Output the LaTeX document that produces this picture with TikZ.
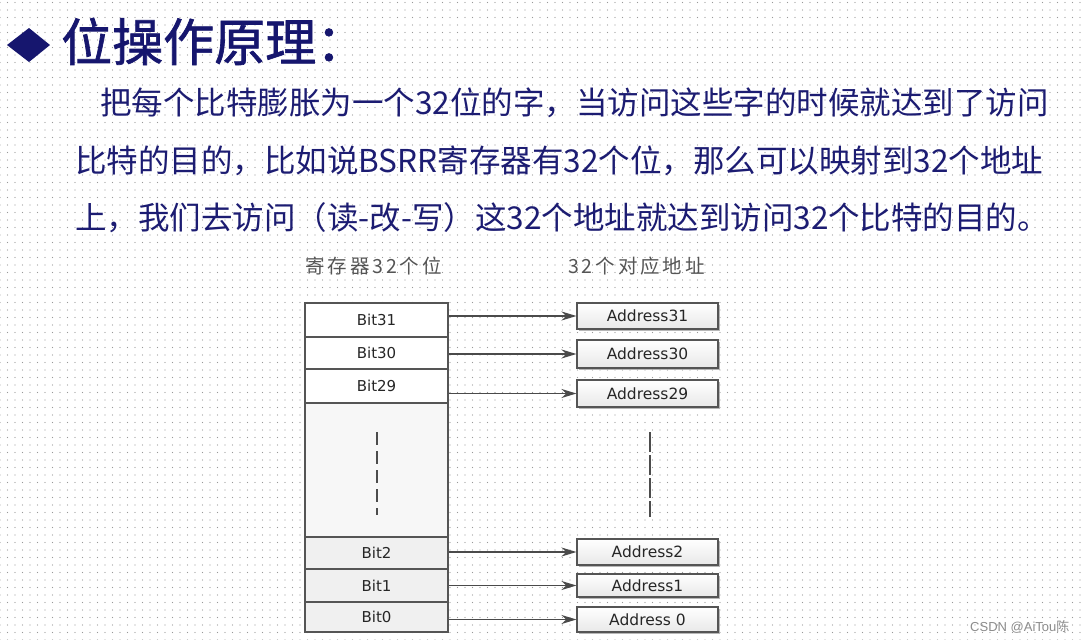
\documentclass[tikz,border=0pt]{standalone}
\usepackage{fontspec}
\usetikzlibrary{patterns.meta,arrows.meta,shadows}
\newfontfamily\cjk{Noto Sans CJK SC}
\newfontfamily\cjktitle[FakeBold=1.3]{Noto Sans CJK SC}
\newfontfamily\cjklab[LetterSpace=15]{Noto Sans CJK SC}
\newfontfamily\boxfont{DejaVu Sans}
\newfontfamily\wmfont{Liberation Sans}
\definecolor{navy}{HTML}{16166E}
\definecolor{bodyblue}{HTML}{1C1C72}
\definecolor{labgray}{HTML}{555555}
\definecolor{edgegray}{HTML}{555555}
\definecolor{arrowgray}{HTML}{4A4A4A}
\begin{document}
\begin{tikzpicture}[x=1pt,y=-1pt,
  bodytext/.style={anchor=base west,inner sep=0pt,text=bodyblue,font=\cjk\fontsize{31.5}{38}\selectfont},
  labtext/.style={anchor=base west,inner sep=0pt,text=labgray,font=\cjklab\fontsize{19.5}{22}\selectfont},
  bitbox/.style={draw=edgegray,line width=1.1pt,minimum width=143pt,inner sep=0pt,text=black!85,font=\boxfont\fontsize{15}{18}\selectfont},
  topfill/.style={fill=white},
  midfill/.style={fill=black!3},
  lowfill/.style={fill=black!6},
  addrbox/.style={draw=edgegray,line width=1.1pt,minimum width=141pt,inner sep=0pt,top color=white,bottom color=black!9,
    drop shadow={shadow xshift=2pt,shadow yshift=-2pt,fill=black!35,opacity=0.8},
    text=black!85,font=\boxfont\fontsize{15.5}{18}\selectfont},
  conn/.style={draw=arrowgray,line width=1.7pt,-{Stealth[length=15pt,width=9pt,fill=black!75]}},
  dashline/.style={draw=black!70,line width=1.1pt}
]
\useasboundingbox (0,0) rectangle (1085,640);
\fill[white] (0,0) rectangle (1085,640);
\fill[pattern={Dots[distance=7.5pt,radius=0.6pt]},pattern color=black!40] (0,0) rectangle (1085,640);

% title
\fill[navy] (7,45) -- (29,28) -- (50,45) -- (29,62) -- cycle;
\node[anchor=base west,inner sep=0pt,text=navy,font=\cjktitle\fontsize{51}{60}\selectfont] (title) at (61,61) {位操作原理：};

% body
\node[bodytext] (l1) at (100,114) {把每个比特膨胀为一个32位的字，当访问这些字的时候就达到了访问};
\node[bodytext] (l2) at (75,172) {比特的目的，比如说BSRR寄存器有32个位，那么可以映射到32个地址};
\node[bodytext] (l3) at (75,229) {上，我们去访问（读-改-写）这32个地址就达到访问32个比特的目的。};

% labels
\node[labtext] (labL) at (305,273) {寄存器32个位};
\node[labtext] (labR) at (568,273) {32个对应地址};

% register column
\node[bitbox,topfill,minimum height=34pt] (b31) at (376.5,320) {Bit31};
\node[bitbox,topfill,minimum height=32pt] (b30) at (376.5,353) {Bit30};
\node[bitbox,topfill,minimum height=34pt] (b29) at (376.5,386) {Bit29};
\node[bitbox,midfill,minimum height=134pt] (bmid) at (376.5,470) {};
\node[bitbox,lowfill,minimum height=32pt] (b2) at (376.5,553) {Bit2};
\node[bitbox,lowfill,minimum height=33pt] (b1) at (376.5,585.5) {Bit1};
\node[bitbox,lowfill,minimum height=30pt] (b0) at (376.5,617) {Bit0};

% address column
\node[addrbox,minimum height=26pt] (a31) at (647.5,316) {Address31};
\node[addrbox,minimum height=28pt] (a30) at (647.5,354) {Address30};
\node[addrbox,minimum height=27pt] (a29) at (647.5,393.5) {Address29};
\node[addrbox,minimum height=26pt] (a2) at (647.5,552) {Address2};
\node[addrbox,minimum height=23pt] (a1) at (647.5,585.5) {Address1};
\node[addrbox,minimum height=25pt] (a0) at (647.5,619.5) {Address 0};

% connectors
\draw[conn] (a31.west -| b31.east) -- (a31.west);
\draw[conn] (a30.west -| b30.east) -- (a30.west);
\draw[conn] (a29.west -| b29.east) -- (a29.west);
\draw[conn] (a2.west -| b2.east) -- (a2.west);
\draw[conn] (a1.west -| b1.east) -- (a1.west);
\draw[conn] (a0.west -| b0.east) -- (a0.west);

% ellipsis dashes
\coordinate (dlt) at (377,432);
\coordinate (dlb) at (377,515);
\coordinate (drt) at (650,432);
\coordinate (drb) at (650,517);
\draw[dashline,dash pattern=on 13pt off 6pt] (dlt) -- (dlb);
\draw[dashline,dash pattern=on 20pt off 3pt] (drt) -- (drb);

% watermark
\node[anchor=base west,inner sep=0pt,text=black!45,font=\wmfont\fontsize{13}{15}\selectfont] (wm) at (970,631) {CSDN @AiTou\cjk 陈};
\end{tikzpicture}
\end{document}
